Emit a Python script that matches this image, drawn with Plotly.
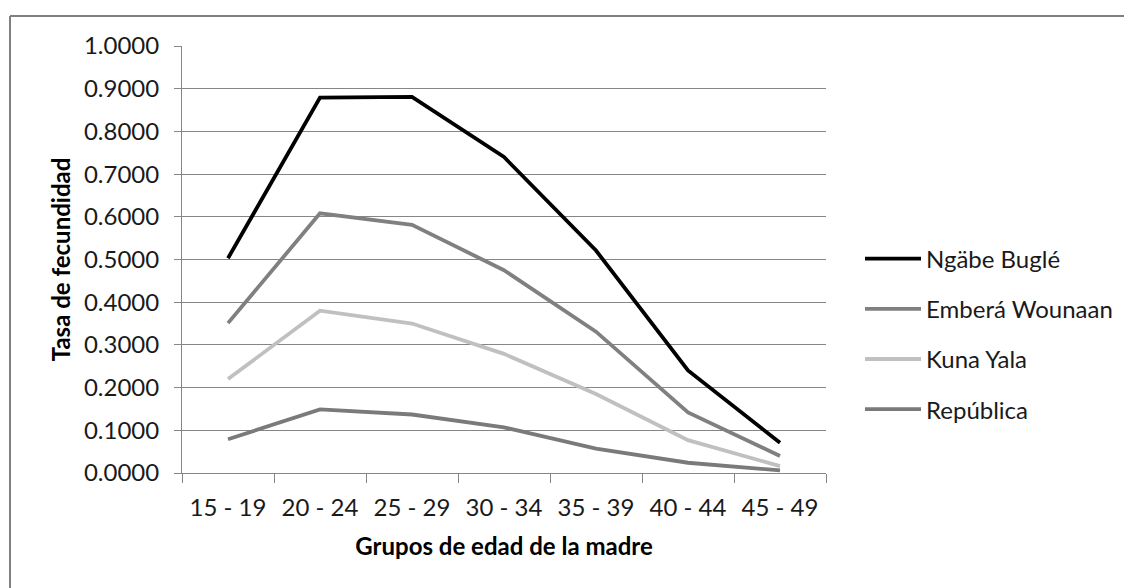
import plotly.graph_objects as go

categories = ["15 - 19", "20 - 24", "25 - 29", "30 - 34", "35 - 39", "40 - 44", "45 - 49"]
ngabe = [0.503, 0.879, 0.881, 0.740, 0.521, 0.240, 0.071]
embera = [0.351, 0.608, 0.581, 0.475, 0.331, 0.142, 0.040]
kuna = [0.220, 0.380, 0.350, 0.279, 0.185, 0.077, 0.016]
republica = [0.079, 0.149, 0.137, 0.107, 0.057, 0.024, 0.006]

series = [
    ("Ngäbe Buglé", ngabe, "#000000"),
    ("Emberá Wounaan", embera, "#808080"),
    ("Kuna Yala", kuna, "#c0c0c0"),
    ("República", republica, "#7a7a7a"),
]

OFF = 8  # page body margin
W, H = 1132 - OFF, 588 - OFF
L, R, T, B = 182 - OFF, 306, 46 - OFF, 115
pw, ph = W - L - R, H - T - B

def px(x):
    return (x - OFF - L) / pw

def py(y):
    return (H - B - (y - OFF)) / ph

fig = go.Figure()
for i, (name, vals, col) in enumerate(series):
    fig.add_trace(go.Scatter(
        x=categories, y=vals, name=name, mode="lines",
        line=dict(color=col, width=3.8),
        legendgroup=f"g{i}",
    ))

font = "Lato, 'Open Sans', sans-serif"
fs = 24
fig.update_layout(
    width=W, height=H,
    margin=dict(l=L, r=R, t=T, b=B, autoexpand=False),
    paper_bgcolor="white", plot_bgcolor="white",
    font=dict(family=font, size=fs, color="#1a1a1a"),
    showlegend=True,
    legend=dict(
        x=px(860), y=py(334), xanchor="left", yanchor="middle",
        font=dict(family=font, size=fs, color="#1a1a1a"),
        tracegroupgap=16, itemwidth=56, bgcolor="rgba(0,0,0,0)",
    ),
    xaxis=dict(
        type="category", showgrid=False, showline=True, linecolor="#868686", linewidth=1,
        ticks="outside", ticklen=9, tickcolor="#868686", tickson="boundaries",
        ticklabelstandoff=13,
        tickfont=dict(family=font, size=fs, color="#1a1a1a"),
        title=dict(text="<b>Grupos de edad de la madre</b>", standoff=18,
                   font=dict(family=font, size=fs, color="#000000")),
        range=[-0.5, 6.5], fixedrange=True,
    ),
    yaxis=dict(
        range=[0, 1.0], dtick=0.1, tickformat=".4f",
        showgrid=True, gridcolor="#868686", gridwidth=1,
        showline=True, linecolor="#868686", linewidth=1,
        ticks="outside", ticklen=7, tickcolor="#868686",
        ticklabelstandoff=10,
        tickfont=dict(family=font, size=fs, color="#1a1a1a"),
        title=dict(text="<b>Tasa de fecundidad</b>", standoff=6,
                   font=dict(family=font, size=fs, color="#000000")),
        zeroline=False, fixedrange=True,
    ),
    shapes=[
        dict(type="line", xref="paper", yref="paper", x0=px(10), x1=px(10), y0=py(16), y1=py(600),
             line=dict(color="#808080", width=2)),
        dict(type="line", xref="paper", yref="paper", x0=px(10), x1=px(1140), y0=py(16), y1=py(16),
             line=dict(color="#808080", width=2)),
    ],
)

fig.write_html("out.html")
